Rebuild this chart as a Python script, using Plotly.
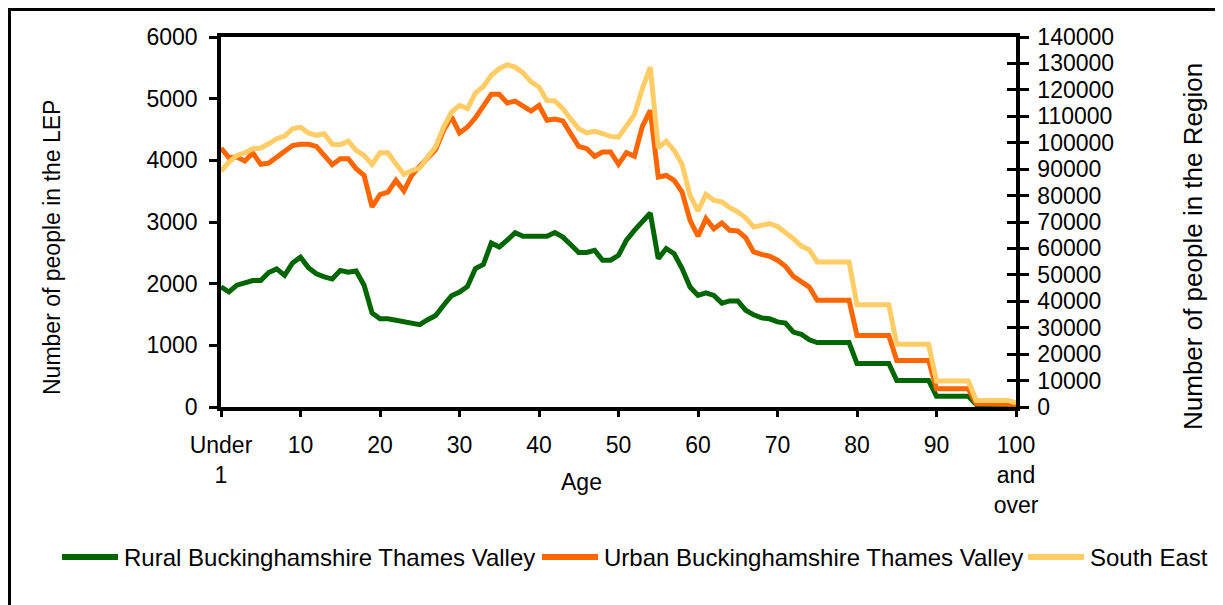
import plotly.graph_objects as go

ages = list(range(101))
age_ticks = [0, 10, 20, 30, 40, 50, 60, 70, 80, 90, 100]
age_labels = ['Under<br>1', '10', '20', '30', '40', '50', '60', '70', '80', '90', '100<br>and<br>over']

rural = [1950, 1865, 1975, 2015, 2050, 2050, 2180, 2240, 2135, 2335,
         2430, 2260, 2160, 2110, 2075, 2215, 2185, 2205, 1975, 1525,
         1430, 1430, 1405, 1375, 1370, 1335, 1415, 1485, 1650, 1805,
         1865, 1955, 2245, 2310, 2660, 2595, 2705, 2825, 2770, 2770,
         2770, 2770, 2830, 2755, 2630, 2505, 2505, 2540, 2380, 2380,
         2460, 2705, 2865, 3000, 3145, 2405, 2570, 2485, 2245, 1945,
         1810, 1850, 1810, 1685, 1720, 1720, 1570, 1495, 1445, 1430,
         1380, 1360, 1215, 1180, 1090, 1045, 1045, 1045, 1045, 1045,
         705, 705, 705, 705, 705, 430, 430, 430, 430, 430,
         175, 175, 175, 175, 175, 40, 40, 40, 40, 40,
         25]

urban = [4200, 4045, 4055, 3990, 4120, 3935, 3955, 4045, 4150, 4240,
         4260, 4260, 4225, 4080, 3930, 4025, 4025, 3865, 3755, 3245,
         3445, 3485, 3675, 3505, 3755, 3905, 4045, 4175, 4485, 4705,
         4445, 4540, 4690, 4865, 5070, 5070, 4930, 4960, 4875, 4800,
         4890, 4650, 4670, 4640, 4430, 4225, 4190, 4065, 4135, 4135,
         3935, 4125, 4065, 4550, 4810, 3730, 3755, 3675, 3485, 3025,
         2770, 3055, 2890, 2985, 2865, 2855, 2745, 2515, 2475, 2445,
         2380, 2280, 2120, 2025, 1945, 1730, 1730, 1730, 1730, 1730,
         1160, 1160, 1160, 1160, 1160, 755, 755, 755, 755, 755,
         295, 295, 295, 295, 295, 55, 55, 55, 55, 55,
         45]

south_east = [89300, 92700, 95200, 96200, 97700, 98000, 99600, 101500, 102500, 105300,
              105900, 103700, 102800, 103400, 99400, 99200, 100600, 97100, 95200, 91800,
              96200, 96200, 92000, 88000, 89500, 90400, 94600, 98600, 105900, 111600,
              114100, 112900, 118800, 121300, 125500, 128000, 129500, 128600, 126400, 123000,
              121100, 116000, 115800, 112900, 109000, 105300, 103700, 104300, 103400, 102400,
              102100, 106600, 110600, 120400, 128600, 98100, 100600, 97100, 91800, 80100,
              74200, 80500, 78200, 77600, 75400, 73800, 71600, 68100, 68700, 69400,
              68300, 66200, 63700, 60900, 59500, 54900, 54900, 54900, 54900, 54900,
              38700, 38700, 38700, 38700, 38700, 23700, 23700, 23700, 23700, 23700,
              9800, 9800, 9800, 9800, 9800, 2500, 2500, 2500, 2500, 2500,
              1600]

series_names = ['Rural Buckinghamshire Thames Valley', 'Urban Buckinghamshire Thames Valley', 'South East']
series_colors = ['#006600', '#FF6600', '#FFCC66']

# the page puts the figure 8px in from the top-left corner, so work in page pixels and shift
OFF = 8
W, H = 1223 - OFF, 605 - OFF
L, T = 221 - OFF, 37 - OFF
R, B = 207, 198
pw, ph = W - L - R, H - T - B


def px(x):
    return (x - OFF - L) / pw


def py(y):
    return (H - B - (y - OFF)) / ph


FONT = 'Liberation Sans, Arial, sans-serif'

fig = go.Figure()
for vals, name, col, ax in zip([rural, urban, south_east], series_names, series_colors, ['y', 'y', 'y2']):
    fig.add_trace(go.Scatter(x=ages, y=vals, name=name, mode='lines',
                             line=dict(color=col, width=5), yaxis=ax, showlegend=False))

# dummy trace so the inner half of the crossing ticks on the right axis is drawn
fig.add_trace(go.Scatter(x=[None], y=[None], yaxis='y3', showlegend=False, hoverinfo='skip'))

axis_common = dict(showgrid=False, zeroline=False, showline=True, linecolor='black',
                   linewidth=3.5, tickcolor='black', tickwidth=3, automargin=False,
                   tickfont=dict(family=FONT, size=23, color='black'))

# outer chart border (left/top edges only are visible in the original)
shapes = [dict(type='rect', xref='paper', yref='paper', x0=px(9.5), y0=py(9.5), x1=px(1240), y1=py(620),
               line=dict(color='black', width=3), layer='above')]
annotations = [
    dict(text='Number of people in the LEP', x=px(52), y=py(248), xref='paper', yref='paper',
         xanchor='center', yanchor='middle', textangle=-90, showarrow=False,
         font=dict(family=FONT, size=23)),
    dict(text='Number of people in the Region', x=px(1193), y=py(247), xref='paper', yref='paper',
         xanchor='center', yanchor='middle', textangle=-90, showarrow=False,
         font=dict(family=FONT, size=26)),
    dict(text='Age', x=px(581), y=py(482), xref='paper', yref='paper',
         xanchor='center', yanchor='middle', showarrow=False, font=dict(family=FONT, size=23)),
]

# legend drawn by hand so the entries sit on one row like the original
legend_line_x = [62, 542, 1028]
for lx, name, col in zip(legend_line_x, series_names, series_colors):
    shapes.append(dict(type='line', xref='paper', yref='paper', x0=px(lx), x1=px(lx + 56),
                       y0=py(557), y1=py(557), line=dict(color=col, width=6)))
    annotations.append(dict(text=name, x=px(lx + 60), y=py(557), xref='paper', yref='paper',
                            xanchor='left', yanchor='middle', showarrow=False,
                            font=dict(family=FONT, size=24)))

fig.update_layout(
    width=W, height=H,
    margin=dict(l=L, r=R, t=T, b=B, autoexpand=False),
    paper_bgcolor='white', plot_bgcolor='white',
    font=dict(family=FONT, size=23, color='black'),
    showlegend=False,
    xaxis=dict(range=[0, 100], tickvals=age_ticks, ticktext=age_labels,
               ticks='outside', ticklen=6, mirror=True, ticklabelstandoff=9,
               **axis_common),
    yaxis=dict(range=[0, 6000], dtick=1000, ticks='outside', ticklen=8,
               ticklabelstandoff=7, **axis_common),
    yaxis2=dict(range=[0, 140000], dtick=10000, overlaying='y', side='right',
                ticks='outside', ticklen=9, ticklabelstandoff=4, tickformat='d', **axis_common),
    yaxis3=dict(range=[0, 140000], dtick=10000, overlaying='y', side='right',
                ticks='inside', ticklen=9, tickwidth=3, tickcolor='black',
                showticklabels=False, showgrid=False, zeroline=False, showline=False),
    annotations=annotations,
    shapes=shapes,
)

fig.write_html('out.html')
